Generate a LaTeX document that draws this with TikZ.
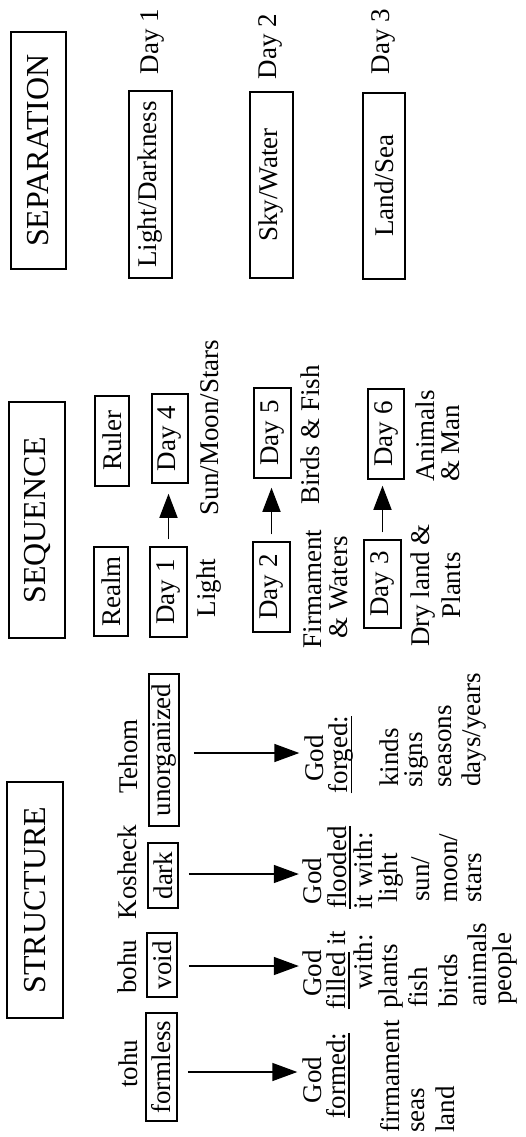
\documentclass[tikz,border=0pt]{standalone}
\usepackage{fontspec}
\setmainfont{Liberation Serif}
\usetikzlibrary{arrows.meta}
\newcommand\myul[1]{\setbox0\hbox{#1}\rlap{\vrule height -3pt depth 4.8pt width \wd0}\box0\relax}
\tikzset{
  txt/.style={rotate=90, inner sep=0pt, font=\fontsize{27}{28}\selectfont},
  lst/.style={txt, anchor=west},
  boxed/.style={draw, line width=1.5pt, rotate=90, inner sep=0pt, font=\fontsize{27}{28}\selectfont},
  title/.style={draw, line width=1.7pt, rotate=90, inner sep=0pt, font=\fontsize{32}{34}\selectfont},
  arr/.style={line width=1.5pt, -{Triangle[length=25pt,width=18pt]}},
  sarr/.style={line width=1.5pt, -{Triangle[length=24pt,width=18pt]}}
}
\begin{document}
\begin{tikzpicture}[x=1pt,y=-1pt]
\fill[white] (0,0) rectangle (526,1137);
\useasboundingbox (0,0) rectangle (526,1137);

% ---------------- SEPARATION ----------------
\node[title, minimum width=237pt, minimum height=55pt] (septitle) at (38.5,150.5) {SEPARATION};
\node[boxed, minimum width=187pt, minimum height=43pt] (light) at (150.5,184.5) {Light/Darkness};
\node[boxed, minimum width=186pt, minimum height=43pt] (sky) at (271.5,185) {Sky/Water};
\node[boxed, minimum width=186pt, minimum height=42pt] (land) at (384,186) {Land/Sea};
\node[txt] (sd1) at (152.5,41.5) {Day 1};
\node[txt] (sd2) at (270,46.5) {Day 2};
\node[txt] (sd3) at (383,41.5) {Day 3};

% ---------------- SEQUENCE ----------------
\node[title, minimum width=236pt, minimum height=56pt] (seqtitle) at (37,520) {SEQUENCE};
\node[boxed, minimum width=90pt, minimum height=34pt] (ruler) at (112,441) {Ruler};
\node[boxed, minimum width=89pt, minimum height=34pt] (realm) at (111,591.5) {Realm};
\node[boxed, minimum width=89pt, minimum height=36pt] (day4) at (170,438.5) {Day 4};
\node[boxed, minimum width=90pt, minimum height=37pt] (day1) at (168.5,592) {Day 1};
\node[boxed, minimum width=90pt, minimum height=37pt] (day5) at (272.5,433) {Day 5};
\node[boxed, minimum width=90pt, minimum height=37pt] (day2) at (271.5,587) {Day 2};
\node[boxed, minimum width=90pt, minimum height=36pt] (day6) at (386,434) {Day 6};
\node[boxed, minimum width=88pt, minimum height=37pt] (day3) at (382.5,584) {Day 3};

\draw[sarr, shorten <=7pt, shorten >=10pt] (day1.east) -- (day1.east |- day4.west);
\draw[sarr, shorten <=7pt, shorten >=9pt] (day2.east) -- (day2.east |- day5.west);
\draw[sarr, shorten <=7pt, shorten >=6pt] (day3.east) -- (day3.east |- day6.west);

\node[txt] (sunmoon) at (210,427.5) {Sun/Moon/Stars};
\node[txt] (lighttxt) at (209,588) {Light};
\node[txt] (birds) at (310,435) {Birds \& Fish};
\node[txt] (firm) at (313,589) {Firmament};
\node[txt] (waters) at (339,587.5) {\& Waters};
\node[lst] (animals) at (425,482) {Animals};
\node[lst] (man) at (451,482) {\& Man};
\node[txt] (dryland) at (423,585.5) {Dry land \&};
\node[txt] (plants) at (451.5,585.5) {Plants};

% ---------------- STRUCTURE ----------------
\node[title, minimum width=236pt, minimum height=56pt] (strtitle) at (35,900) {STRUCTURE};

\node[txt] (tehom) at (128.5,756.5) {Tehom};
\node[txt] (kosheck) at (127.5,872) {Kosheck};
\node[txt] (bohu) at (127.5,966.5) {bohu};
\node[txt] (tohu) at (128.5,1063.5) {tohu};

\node[boxed, minimum width=152pt, minimum height=30pt] (unorg) at (164,750) {unorganized};
\node[boxed, minimum width=65pt, minimum height=30pt] (dark) at (163,875.5) {dark};
\node[boxed, minimum width=64pt, minimum height=30pt] (void) at (162,965) {void};
\node[boxed, minimum width=108pt, minimum height=31pt] (formless) at (161.5,1067) {formless};

% forged
\node[txt] (godD) at (314,758.5) {God};
\node[txt] (forged) at (341,754.5) {\myul{forged:}};
\node[lst] (kinds) at (389,787) {kinds};
\node[lst] (signs) at (416.5,788) {signs};
\node[lst] (seasons) at (445,788) {seasons};
\node[lst] (days) at (474,787) {days/years};

% flooded
\node[txt] (godC) at (312.5,881) {God};
\node[txt] (flooded) at (339,867.5) {\myul{flooded}};
\node[txt] (itwith) at (363,871) {it with:};
\node[lst] (lightw) at (391.5,903) {light};
\node[lst] (sun) at (421,902) {sun/};
\node[lst] (moon) at (448.5,903) {moon/};
\node[lst] (stars) at (474.5,903) {stars};

% filled
\node[txt] (godB) at (312.5,973.5) {God};
\node[txt] (filled) at (338,970) {\myul{filled} it};
\node[txt] (with) at (363,962) {with:};
\node[lst] (plantsS) at (391.5,1009) {plants};
\node[lst] (fish) at (418.5,1008) {fish};
\node[lst] (birdsS) at (448.5,1008) {birds};
\node[lst] (animalsS) at (477,1007) {animals};
\node[lst] (people) at (505,1005) {people};

% formed
\node[txt] (godA) at (312,1080) {God};
\node[txt] (formed) at (338,1075.5) {\myul{formed:}};
\node[lst] (firmS) at (390,1133) {firmament};
\node[lst] (seas) at (418.5,1133) {seas};
\node[lst] (landS) at (445,1133) {land};

% arrows
\draw[arr, shorten <=14pt, shorten >=5pt] ([yshift=-3pt]unorg.south) -- ([yshift=-3pt]unorg.south -| godD.north);
\draw[arr, shorten <=10pt, shorten >=4pt] ([yshift=1.5pt]dark.south) -- ([yshift=1.5pt]dark.south -| godC.north);
\draw[arr, shorten <=11pt, shorten >=4pt] ([yshift=-1pt]void.south) -- ([yshift=-1pt]void.south -| godB.north);
\draw[arr, shorten <=10pt, shorten >=5pt] ([yshift=-5pt]formless.south) -- ([yshift=-5pt]formless.south -| godA.north);
\end{tikzpicture}
\end{document}
